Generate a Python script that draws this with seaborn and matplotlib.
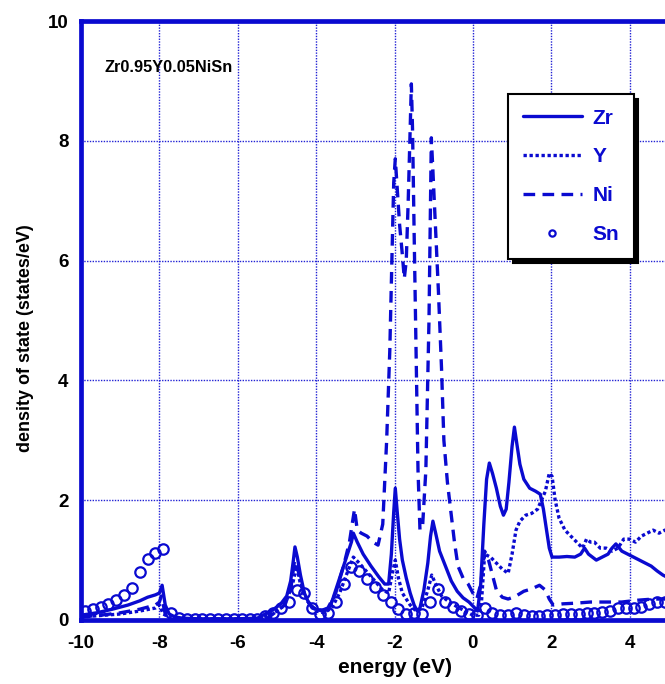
import numpy as np
import pandas as pd
import matplotlib
matplotlib.use("Agg")
import matplotlib.pyplot as plt
import seaborn as sns

# ---------------- data ----------------
zr_energy = [-10.0, -9.6, -9.2, -8.8, -8.5, -8.3, -8.1, -8.0, -7.93, -7.85, -7.75, -7.6, -7.4, -7.0, -6.0,
             -5.5, -5.3, -5.1, -4.9, -4.75, -4.65, -4.58, -4.54, -4.48, -4.4, -4.3, -4.2, -4.1, -4.0, -3.85,
             -3.7, -3.6, -3.5, -3.4, -3.3, -3.2, -3.1, -3.05, -2.95, -2.8, -2.6, -2.4, -2.25, -2.15, -2.08,
             -2.02, -1.98, -1.93, -1.87, -1.8, -1.7, -1.6, -1.5, -1.42, -1.35, -1.25, -1.15, -1.08, -1.02,
             -0.95, -0.85, -0.7, -0.55, -0.4, -0.25, -0.1, 0.05, 0.12, 0.2, 0.28, 0.35, 0.42, 0.5, 0.6, 0.7,
             0.78, 0.85, 0.92, 1.0, 1.06, 1.12, 1.2, 1.3, 1.45, 1.6, 1.72, 1.8, 1.88, 1.95, 2.02, 2.2, 2.4,
             2.6, 2.75, 2.85, 2.95, 3.05, 3.15, 3.3, 3.45, 3.55, 3.65, 3.8, 3.95, 4.1, 4.25, 4.4, 4.55, 4.7,
             4.85, 5.0]
zr_dos = [0.08, 0.12, 0.18, 0.25, 0.32, 0.38, 0.42, 0.45, 0.58, 0.25, 0.1, 0.05, 0.03, 0.02, 0.02,
          0.03, 0.1, 0.17, 0.27, 0.4, 0.65, 1.0, 1.22, 1.05, 0.75, 0.45, 0.3, 0.22, 0.18, 0.15,
          0.17, 0.3, 0.5, 0.7, 0.9, 1.1, 1.3, 1.45, 1.3, 1.1, 0.9, 0.72, 0.6, 0.6, 1.1,
          1.8, 2.2, 1.8, 1.35, 1.0, 0.7, 0.45, 0.25, 0.15, 0.2, 0.5, 0.95, 1.4, 1.65,
          1.45, 1.15, 0.9, 0.65, 0.48, 0.37, 0.3, 0.2, 0.15, 0.6, 1.6, 2.35, 2.62, 2.45, 2.2, 1.9,
          1.75, 1.85, 2.3, 2.9, 3.22, 2.95, 2.6, 2.35, 2.2, 2.15, 2.1, 1.85, 1.5, 1.2, 1.05, 1.05, 1.06,
          1.05, 1.1, 1.2, 1.1, 1.05, 1.0, 1.05, 1.1, 1.2, 1.27, 1.15, 1.1, 1.05, 1.0, 0.95, 0.9, 0.82,
          0.75, 0.7]

y_energy = [-10.0, -9.0, -8.5, -8.1, -8.0, -7.9, -7.7, -7.5, -5.5, -5.2, -5.0, -4.8, -4.6, -4.5, -4.4,
            -4.2, -4.0, -3.8, -3.6, -3.4, -3.2, -3.05, -2.9, -2.7, -2.5, -2.3, -2.15, -2.05, -1.98, -1.9,
            -1.8, -1.6, -1.45, -1.3, -1.15, -1.05, -0.95, -0.8, -0.6, -0.4, -0.2, 0.0, 0.15, 0.22, 0.3,
            0.45, 0.6, 0.75, 0.9, 1.0, 1.1, 1.2, 1.35, 1.5, 1.65, 1.75, 1.85, 1.95, 2.02, 2.1, 2.2, 2.35,
            2.5, 2.65, 2.8, 2.9, 3.0, 3.1, 3.25, 3.4, 3.55, 3.7, 3.85, 4.0, 4.15, 4.3, 4.45, 4.6, 4.75,
            4.9, 5.0]
y_dos = [0.05, 0.1, 0.15, 0.2, 0.25, 0.1, 0.03, 0.02, 0.02, 0.08, 0.15, 0.25, 0.6, 0.9, 0.6,
         0.3, 0.15, 0.12, 0.2, 0.45, 0.8, 1.05, 0.95, 0.8, 0.65, 0.5, 0.45, 0.8, 1.0, 0.7,
         0.45, 0.25, 0.15, 0.2, 0.5, 0.75, 0.6, 0.4, 0.3, 0.22, 0.15, 0.08, 0.08, 0.3, 1.1,
         1.05, 0.95, 0.85, 0.78, 1.1, 1.5, 1.65, 1.75, 1.78, 1.85, 2.0, 2.15, 2.45, 2.4, 2.0, 1.7, 1.5,
         1.4, 1.3, 1.2, 1.35, 1.3, 1.3, 1.2, 1.2, 1.15, 1.2, 1.35, 1.35, 1.3, 1.4, 1.45, 1.5, 1.45,
         1.5, 1.5]

ni_energy = [-10.0, -9.5, -9.0, -8.5, -8.1, -8.0, -7.95, -7.85, -7.7, -7.5, -6.0, -5.4, -5.2, -5.0, -4.8,
             -4.65, -4.55, -4.45, -4.3, -4.1, -3.9, -3.7, -3.5, -3.3, -3.15, -3.08, -3.02, -2.95, -2.85,
             -2.7, -2.55, -2.42, -2.3, -2.2, -2.12, -2.06, -2.02, -1.98, -1.93, -1.87, -1.8, -1.75, -1.7,
             -1.65, -1.6, -1.57, -1.54, -1.5, -1.45, -1.4, -1.35, -1.28, -1.2, -1.12, -1.06, -1.02, -0.95,
             -0.88, -0.8, -0.74, -0.65, -0.56, -0.47, -0.38, -0.25, -0.12, 0.0, 0.1, 0.2, 0.3, 0.4, 0.5,
             0.6, 0.75, 0.9, 1.1, 1.3, 1.5, 1.7, 1.85, 1.95, 2.05, 2.3, 2.6, 3.0, 3.4, 3.8, 4.2, 4.6, 5.0]
ni_dos = [0.05, 0.08, 0.12, 0.18, 0.25, 0.3, 0.4, 0.1, 0.0, -0.05, -0.05, -0.03, 0.05, 0.15, 0.25,
          0.5, 1.0, 0.8, 0.4, 0.2, 0.15, 0.2, 0.45, 0.9, 1.3, 1.6, 1.85, 1.5, 1.45,
          1.4, 1.3, 1.25, 1.6, 3.0, 4.5, 6.2, 7.3, 7.7, 7.2, 6.6, 6.1, 5.7, 6.0,
          7.0, 8.2, 8.95, 8.2, 6.5, 4.5, 2.5, 1.5, 1.6, 2.5, 5.0, 8.05, 7.5, 6.5,
          5.5, 4.2, 3.0, 2.3, 1.8, 1.3, 0.9, 0.7, 0.6, 0.45, 0.35, 0.6, 1.15, 1.0, 0.75,
          0.5, 0.38, 0.35, 0.4, 0.48, 0.52, 0.58, 0.5, 0.35, 0.25, 0.27, 0.28, 0.3, 0.3, 0.3, 0.33, 0.35, 0.35]

sn_energy = [-9.9, -9.7, -9.5, -9.3, -9.1, -8.9, -8.7, -8.5, -8.3, -8.1, -7.9, -7.7, -7.5, -7.3, -7.1,
             -6.9, -6.7, -6.5, -6.3, -6.1, -5.9, -5.7, -5.5, -5.3, -5.1, -4.9, -4.7, -4.5, -4.3, -4.1,
             -3.9, -3.7, -3.5, -3.3, -3.1, -2.9, -2.7, -2.5, -2.3, -2.1, -1.9, -1.7, -1.5, -1.3, -1.1,
             -0.9, -0.7, -0.5, -0.3, -0.1, 0.1, 0.3, 0.5, 0.7, 0.9, 1.1, 1.3, 1.5, 1.7, 1.9,
             2.1, 2.3, 2.5, 2.7, 2.9, 3.1, 3.3, 3.5, 3.7, 3.9, 4.1, 4.3, 4.5, 4.7, 4.9]
sn_dos = [0.15, 0.19, 0.22, 0.27, 0.33, 0.42, 0.53, 0.8, 1.02, 1.12, 1.18, 0.12, 0.04, 0.02, 0.01,
          0.01, 0.01, 0.01, 0.01, 0.01, 0.01, 0.01, 0.02, 0.06, 0.12, 0.2, 0.3, 0.5, 0.45, 0.2,
          0.1, 0.12, 0.3, 0.6, 0.88, 0.82, 0.68, 0.55, 0.42, 0.3, 0.18, 0.1, 0.12, 0.1, 0.3,
          0.52, 0.3, 0.22, 0.15, 0.1, 0.08, 0.2, 0.12, 0.08, 0.08, 0.12, 0.08, 0.07, 0.07, 0.08,
          0.08, 0.1, 0.1, 0.1, 0.11, 0.12, 0.13, 0.15, 0.2, 0.2, 0.2, 0.22, 0.26, 0.3, 0.3]

x_ticks = [-10, -8, -6, -4, -2, 0, 2, 4]
y_ticks = [0, 2, 4, 6, 8, 10]
series_labels = ["Zr", "Y", "Ni", "Sn"]
title_text = "Zr0.95Y0.05NiSn"

# ---------------- style ----------------
sns.set_theme(style="white")
plt.rcParams["font.family"] = ["Liberation Sans", "DejaVu Sans"]
plt.rcParams["font.weight"] = "bold"
plt.rcParams["axes.unicode_minus"] = False
BLUE = "#0a0ad0"

fig = plt.figure(figsize=(6.65, 6.84), dpi=100)
ax = fig.add_axes([81 / 665, 64 / 684, 627 / 665, 599 / 684])

sns.lineplot(x=zr_energy, y=zr_dos, ax=ax, color=BLUE, lw=2.4, estimator=None, sort=False,
             label=series_labels[0])
sns.lineplot(x=y_energy, y=y_dos, ax=ax, color=BLUE, lw=2.4, estimator=None, sort=False,
             linestyle=(0, (1.0, 0.8)), label=series_labels[1])
sns.lineplot(x=ni_energy, y=ni_dos, ax=ax, color=BLUE, lw=2.4, estimator=None, sort=False,
             linestyle=(0, (3.5, 2.2)), label=series_labels[2])
sns.lineplot(x=sn_energy, y=sn_dos, ax=ax, color=BLUE, estimator=None, sort=False,
             linestyle="none", marker="o", markersize=7.5, markerfacecolor="none",
             markeredgecolor=BLUE, markeredgewidth=1.6, label=series_labels[3])

ax.set_xlim(-10, 6)
ax.set_ylim(0, 10)
ax.set_xticks(x_ticks)
ax.set_yticks(y_ticks)
ax.tick_params(axis="x", length=0, labelsize=13.5, pad=11, labelcolor="black")
ax.tick_params(axis="y", length=0, labelsize=13.5, pad=9, labelcolor="black")
for lab in ax.get_xticklabels() + ax.get_yticklabels():
    lab.set_fontweight("bold")

ax.grid(True, color=BLUE, linestyle=(0, (1, 1)), linewidth=1.0, alpha=0.9)
for sp in ax.spines.values():
    sp.set_color(BLUE)
    sp.set_linewidth(3.4)
    sp.set_zorder(5)

ax.set_xlabel("energy (eV)", fontsize=15, fontweight="bold", color="black")
ax.set_ylabel("density of state (states/eV)", fontsize=13, fontweight="bold", color="black")
ax.xaxis.set_label_coords(0.5, -0.064)
ax.yaxis.set_label_coords(-0.075, 0.47)

ax.text(-9.39, 9.22, title_text, fontsize=11.8, fontweight="bold", color="black",
        ha="left", va="center")

handles, labels = ax.get_legend_handles_labels()
leg = ax.legend(handles, labels, loc="upper left", bbox_to_anchor=(0.681, 0.878),
                frameon=True, fancybox=False, edgecolor="black", facecolor="white",
                framealpha=1, shadow={"ox": 3.5, "oy": -3.5, "color": "black", "alpha": 1},
                handlelength=2.85, handletextpad=0.5, labelspacing=0.95, borderpad=0.7,
                borderaxespad=0, markerscale=0.6, prop={"weight": "bold", "size": 15},
                labelcolor=BLUE)
leg.get_frame().set_linewidth(1.5)

fig.savefig("out.png", dpi=100)
